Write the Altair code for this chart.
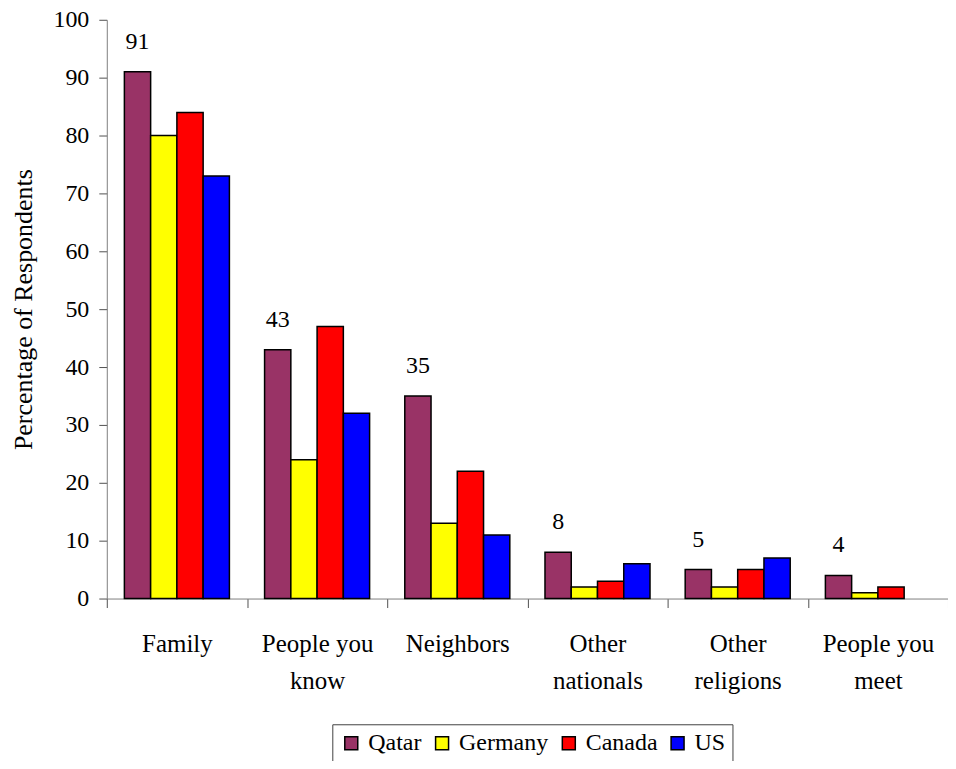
import altair as alt
import pandas as pd

categories = ["Family", "People you know", "Neighbors", "Other nationals", "Other religions", "People you meet"]
label_lines = {
    "Family": ["Family"],
    "People you know": ["People you", "know"],
    "Neighbors": ["Neighbors"],
    "Other nationals": ["Other", "nationals"],
    "Other religions": ["Other", "religions"],
    "People you meet": ["People you", "meet"],
}
series = ["Qatar", "Germany", "Canada", "US"]
colors = ["#993366", "#FFFF00", "#FF0000", "#0000FF"]
qatar = [91, 43, 35, 8, 5, 4]
germany = [80, 24, 13, 2, 2, 1]
canada = [84, 47, 22, 3, 5, 2]
us = [73, 32, 11, 6, 7, None]

rows = []
for name, vals in zip(series, [qatar, germany, canada, us]):
    for c, v in zip(categories, vals):
        if v is not None:
            rows.append({"category": c, "country": name, "value": v})
df = pd.DataFrame(rows)

FONT = "Liberation Serif"

expr = "''"
for c in reversed(categories):
    arr = "[" + ",".join("'" + s + "'" for s in label_lines[c]) + "]"
    expr = f"datum.label == '{c}' ? {arr} : ({expr})"

x = alt.X("category:N", sort=categories, title=None,
          scale=alt.Scale(paddingInner=0, paddingOuter=0),
          axis=alt.Axis(labelExpr=expr, labelAngle=0, labelFont=FONT, labelFontSize=25,
                        labelColor="black", labelPadding=24, labelLineHeight=37,
                        tickBand="extent", tickSize=9, tickColor="#505050",
                        domainColor="#808080", labelBaseline="top"))
xo = alt.XOffset("country:N", sort=series,
                 scale=alt.Scale(paddingInner=0, paddingOuter=0.67))

bars = alt.Chart(df).mark_bar(stroke="black", strokeWidth=1.5).encode(
    x=x,
    xOffset=xo,
    y=alt.Y("value:Q", title="Percentage of Respondents",
            scale=alt.Scale(domain=[0, 100]),
            axis=alt.Axis(values=list(range(0, 101, 10)), grid=False,
                          labelFont=FONT, labelFontSize=24, labelColor="black",
                          labelPadding=10,
                          titleFont=FONT, titleFontSize=26, titleFontWeight="normal",
                          titleColor="black", titlePadding=16, tickSize=8,
                          tickColor="#505050", domainColor="#808080")),
    color=alt.Color("country:N", sort=series,
                    scale=alt.Scale(domain=series, range=colors),
                    legend=alt.Legend(title=None, orient="none", direction="horizontal",
                                      legendX=226, legendY=706,
                                      labelFont=FONT, labelFontSize=24, labelColor="black",
                                      symbolType="square", symbolSize=169,
                                      symbolStrokeColor="black", symbolStrokeWidth=1.5,
                                      symbolOpacity=1,
                                      strokeColor="#404040", padding=7,
                                      columnPadding=8, labelOffset=5)),
)

labels = alt.Chart(df[df["country"] == "Qatar"]).mark_text(
    font=FONT, fontSize=24, dy=-30, color="black"
).encode(
    x=x, xOffset=xo, y="value:Q", text="value:Q"
)

chart = (bars + labels).properties(
    width=843, height=580,
    autosize=alt.AutoSizeParams(type="none"),
    padding={"left": 99, "top": 11, "right": 0, "bottom": 162},
).configure(font=FONT).configure_legend(labelFont=FONT).configure_text(font=FONT).configure_view(stroke=None)

chart.save("out.html", embed_options={"renderer": "svg", "actions": False})
